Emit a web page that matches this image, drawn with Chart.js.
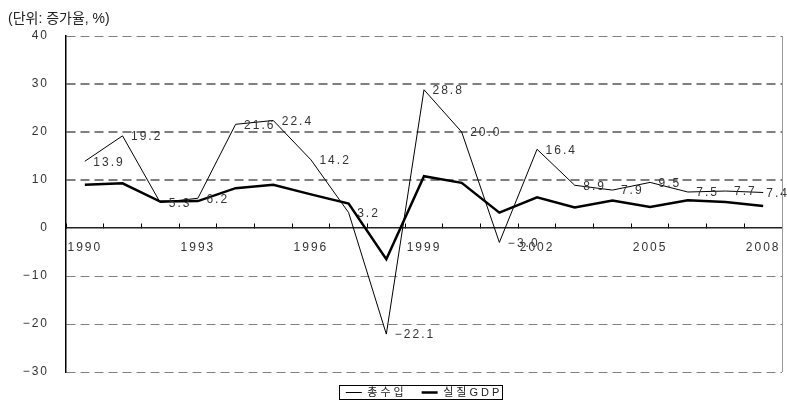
<!DOCTYPE html>
<html lang="ko">
<head>
    <meta charset="UTF-8">
    <title>총수입 및 실질GDP 증가율</title>
    <script src="https://cdn.jsdelivr.net/npm/chart.js"></script>
    <style>
        body { margin: 0; background: #fff; }
        #wrap { width: 787px; height: 408px; }
    </style>
</head>
<body>
    <div id="wrap"><canvas id="chart"></canvas></div>

    <script>
        // --- Data (증가율, %) ---
        const years = ['1990', '1991', '1992', '1993', '1994', '1995', '1996', '1997', '1998', '1999',
                       '2000', '2001', '2002', '2003', '2004', '2005', '2006', '2007', '2008'];
        const revenue = [13.9, 19.2, 5.3, 6.2, 21.6, 22.4, 14.2, 3.2, -22.1, 28.8,
                         20.0, -3.0, 16.4, 8.9, 7.9, 9.5, 7.5, 7.7, 7.4];
        const realGdp = [9.0, 9.3, 5.5, 5.6, 8.3, 9.0, 7.0, 5.1, -6.5, 10.8,
                         9.4, 3.2, 6.4, 4.3, 5.7, 4.4, 5.8, 5.4, 4.6];
        const yTicks = { min: -30, max: 40, step: 10 };

        const FONT = "'Liberation Sans', 'Noto Sans CJK KR', sans-serif";
        const TEXT = '#333';

        const fmt = v => (v < 0 ? '\u2212' : '') + Math.abs(v).toFixed(1);

        // letter spacing is canvas state, so set it per box
        function withSpacing(box, ls) {
            ['fit', 'draw'].forEach(fn => {
                const orig = box[fn];
                box[fn] = function (...args) {
                    const prev = this.ctx.letterSpacing;
                    this.ctx.letterSpacing = ls;
                    const r = orig.apply(this, args);
                    this.ctx.letterSpacing = prev;
                    return r;
                };
            });
        }

        const spacing = {
            id: 'spacing',
            afterInit(chart) {
                withSpacing(chart.legend, '3px');
                withSpacing(chart.titleBlock, '0px');
            },
            beforeUpdate(chart) { chart.ctx.letterSpacing = '2px'; },
            beforeDraw(chart) { chart.ctx.letterSpacing = '2px'; }
        };

        // value labels on the 총수입 line
        const pointLabels = {
            id: 'pointLabels',
            afterDatasetsDraw(chart) {
                const ctx = chart.ctx;
                const meta = chart.getDatasetMeta(0);
                ctx.save();
                ctx.font = '12px ' + FONT;
                ctx.fillStyle = TEXT;
                ctx.textAlign = 'left';
                ctx.textBaseline = 'middle';
                ctx.letterSpacing = '2px';
                meta.data.forEach((pt, i) => {
                    const text = fmt(revenue[i]);
                    const w = ctx.measureText(text).width;
                    const x = Math.min(pt.x + 8.5, chart.width - w + 2);
                    ctx.fillText(text, x, pt.y + 1);
                });
                ctx.restore();
            }
        };

        // right frame line + box round the legend
        const frame = {
            id: 'frame',
            afterDraw(chart) {
                const { ctx, chartArea } = chart;
                ctx.save();
                ctx.strokeStyle = '#999';
                ctx.lineWidth = 1;
                ctx.beginPath();
                ctx.moveTo(Math.round(chartArea.right) + 0.5, chartArea.top);
                ctx.lineTo(Math.round(chartArea.right) + 0.5, chartArea.bottom);
                ctx.stroke();

                const hb = chart.legend.legendHitBoxes;
                if (hb && hb.length) {
                    const last = hb[hb.length - 1];
                    const left = Math.round(hb[0].left - 7) + 0.5;
                    const right = Math.round(last.left + last.width) + 0.5;
                    const mid = hb[0].top + hb[0].height / 2;
                    const top = Math.round(mid - 8) + 0.5;
                    ctx.strokeStyle = '#000';
                    ctx.strokeRect(left, top, right - left, 14);
                }
                ctx.restore();
            }
        };

        const ctx = document.getElementById('chart').getContext('2d');
        new Chart(ctx, {
            type: 'line',
            data: {
                labels: years,
                datasets: [
                    { label: '총수입', data: revenue, borderColor: '#000', backgroundColor: '#000',
                      borderWidth: 1, pointRadius: 0, tension: 0 },
                    { label: '실질GDP', data: realGdp, borderColor: '#000', backgroundColor: '#000',
                      borderWidth: 2.5, pointRadius: 0, tension: 0 }
                ]
            },
            options: {
                responsive: true,
                maintainAspectRatio: false,
                animation: false,
                devicePixelRatio: 1,
                layout: { padding: { left: 8, right: 5, top: 0, bottom: 0 } },
                plugins: {
                    title: {
                        display: true,
                        text: '(단위: 증가율, %)',
                        align: 'start',
                        color: '#222',
                        font: { family: FONT, size: 14, weight: 'normal', lineHeight: '16px' },
                        padding: { top: 11, bottom: 9 }
                    },
                    legend: {
                        position: 'bottom',
                        fullSize: false,
                        labels: {
                            usePointStyle: true,
                            pointStyle: 'line',
                            pointStyleWidth: 16,
                            padding: 15,
                            color: '#222',
                            font: { family: FONT, size: 11 }
                        }
                    },
                    tooltip: { enabled: false }
                },
                scales: {
                    x: {
                        type: 'category',
                        offset: true,
                        position: { y: 0 },
                        grid: { offset: true, drawOnChartArea: false, drawTicks: true,
                                tickLength: -5, color: '#000', tickWidth: 1 },
                        border: { display: true, color: '#222', width: 1.5 },
                        ticks: {
                            autoSkip: false, maxRotation: 0, padding: 17, color: TEXT,
                            font: { family: FONT, size: 12 },
                            callback(v, i) { return i % 3 === 0 ? this.getLabelForValue(v) : ''; }
                        },
                        afterFit: s => { s.paddingLeft = 0; s.paddingRight = 0; }
                    },
                    y: {
                        min: yTicks.min,
                        max: yTicks.max,
                        ticks: {
                            stepSize: yTicks.step, padding: 17, color: TEXT,
                            font: { family: FONT, size: 12 },
                            callback: v => (v < 0 ? '\u2212' + (-v) : String(v))
                        },
                        grid: {
                            drawTicks: false,
                            color: c => c.tick && c.tick.value === 0 ? 'rgba(0,0,0,0)' : '#7f7f7f',
                            lineWidth: c => c.tick && c.tick.value > 0 && c.tick.value < 40 ? 2 : 1
                        },
                        border: { display: true, color: '#000', width: 1.5, dash: [9, 5] },
                        afterFit: s => { s.width = 58; }
                    }
                }
            },
            plugins: [spacing, pointLabels, frame]
        });
    </script>
</body>
</html>
